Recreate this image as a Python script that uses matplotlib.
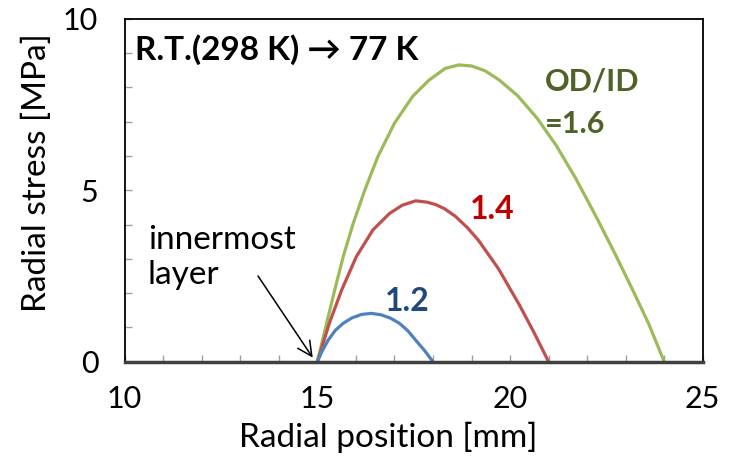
import numpy as np
import matplotlib
matplotlib.use("Agg")
from matplotlib import pyplot as plt

# radial stress profiles after cooling R.T. -> 77 K, one per OD/ID ratio
x_16 = [15.0, 15.24, 15.45, 15.67, 15.93, 16.23, 16.57, 17.0, 17.47, 17.9,
        18.32, 18.67, 19.0, 19.35, 19.72, 20.2, 20.7, 21.2, 21.7, 22.2,
        22.7, 23.2, 23.6, 24.0]
y_16 = [0.0, 1.12, 2.09, 3.06, 4.03, 5.0, 5.98, 6.95, 7.73, 8.21,
        8.55, 8.65, 8.62, 8.48, 8.21, 7.75, 7.1, 6.3, 5.35, 4.3,
        3.2, 2.05, 1.1, 0.0]

x_14 = [15.0, 15.31, 15.63, 16.01, 16.44, 16.87, 17.2, 17.55, 17.85, 18.07,
        18.3, 18.58, 18.9, 19.18, 19.7, 20.24, 20.6, 21.0]
y_14 = [0.0, 1.12, 2.09, 3.06, 3.84, 4.32, 4.56, 4.69, 4.65, 4.58,
        4.46, 4.24, 3.9, 3.54, 2.71, 1.66, 0.9, 0.0]

x_12 = [15.0, 15.12, 15.28, 15.47, 15.67, 15.9, 16.15, 16.4, 16.65, 16.9,
        17.13, 17.35, 17.55, 17.78, 18.0]
y_12 = [0.0, 0.3, 0.63, 0.92, 1.12, 1.28, 1.38, 1.41, 1.37, 1.27,
        1.12, 0.9, 0.63, 0.33, 0.0]

xticks = [10, 15, 20, 25]
yticks = [0, 5, 10]

plt.rcParams['font.family'] = ['Lato', 'DejaVu Sans']

fig = plt.figure(figsize=(7.29, 4.65), dpi=100)
ax = fig.add_axes([0.171, 0.222, 0.793, 0.738])

ax.plot(x_16, y_16, color='#9BBB59', lw=2.3, solid_joinstyle='round')
ax.plot(x_14, y_14, color='#C0504D', lw=2.3, solid_joinstyle='round')
ax.plot(x_12, y_12, color='#4F81BD', lw=2.3, solid_joinstyle='round')

ax.set_xlim(10, 25)
ax.set_ylim(0, 10)
ax.set_xticks(xticks)
ax.set_yticks(yticks)
ax.set_xticks(np.arange(10, 26, 1), minor=True)
ax.set_yticks(np.arange(0, 11, 1), minor=True)
ax.tick_params(which='both', direction='in', length=5, width=1.0,
               color='#A0A0A0', labelsize=22)
ax.tick_params(axis='x', pad=17)
ax.tick_params(axis='y', pad=19)

for side in ['left', 'top', 'right']:
    ax.spines[side].set_color('black')
    ax.spines[side].set_linewidth(1.3)
ax.spines['bottom'].set_color('#404040')
ax.spines['bottom'].set_linewidth(2.5)

ax.set_xlabel('Radial position [mm]', fontsize=24)
ax.set_ylabel('Radial stress [MPa]', fontsize=24)
ax.xaxis.set_label_coords(0.455, -0.175)
ax.yaxis.set_label_coords(-0.125, 0.55)

ax.text(10.27, 9.09, 'R.T.(298 K) \u2192 77 K', fontsize=24,
        fontweight='bold', va='center', ha='left')
ax.text(20.91, 7.55, 'OD/ID\n=1.6', fontsize=22, fontweight='bold',
        color='#4F6228', va='center', ha='left', linespacing=1.6)
ax.text(18.97, 4.45, '1.4', fontsize=23, fontweight='bold',
        color='#C00000', va='center', ha='left')
ax.text(16.76, 1.75, '1.2', fontsize=23, fontweight='bold',
        color='#1F497D', va='center', ha='left')
ax.text(10.6, 3.05, 'innermost\nlayer', fontsize=24, va='center',
        ha='left', linespacing=1.2)

ax.annotate('', xy=(14.88, 0.12), xytext=(13.46, 2.5),
            arrowprops=dict(arrowstyle='->', color='black', lw=1.1,
                            mutation_scale=26, shrinkA=0, shrinkB=0))

fig.savefig('out.png', dpi=100)
